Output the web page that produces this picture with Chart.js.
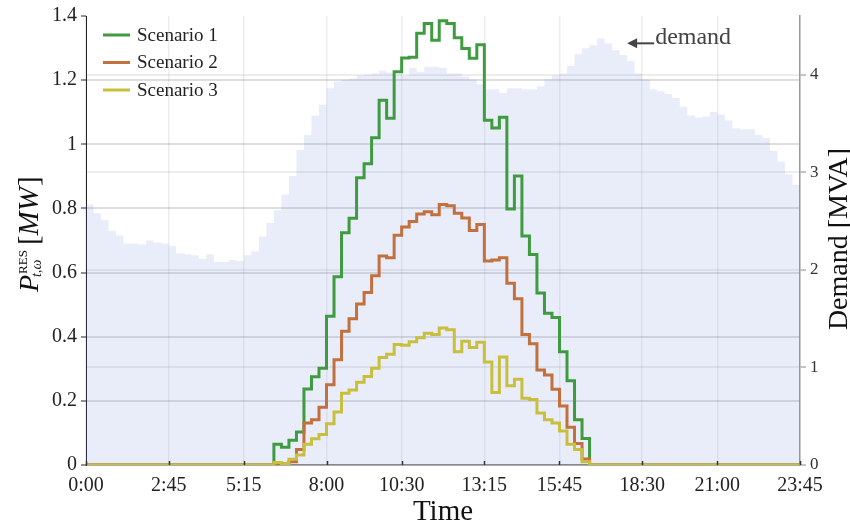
<!DOCTYPE html>
<html>
<head>
<meta charset="utf-8">
<title>RES scenarios and demand</title>
<script src="https://cdn.jsdelivr.net/npm/chart.js@4/dist/chart.umd.min.js"></script>
<style>
  html, body { margin: 0; background: #fff; }
  #wrap { width: 850px; height: 526px; }
</style>
</head>
<body>
<div id="wrap"><canvas id="chart"></canvas></div>
<script>
const SERIF = '"Liberation Serif", "Times New Roman", serif';

// one value per quarter hour, 0:00 .. 23:45
const slots = Array.from({length: 96}, (_, i) => i);
const timeTicks = [0, 11, 21, 32, 42, 53, 63, 74, 84, 95];
const timeTickLabels = ['0:00', '2:45', '5:15', '8:00', '10:30', '13:15', '15:45', '18:30', '21:00', '23:45'];
const powerTicks = [0, 0.2, 0.4, 0.6, 0.8, 1, 1.2, 1.4];
const demandTicks = [0, 1, 2, 3, 4];

// demand [MVA]
const demand = [
  2.67, 2.58, 2.51, 2.40, 2.35, 2.27, 2.27, 2.26, 2.30, 2.28, 2.27, 2.24,
  2.17, 2.16, 2.15, 2.11, 2.16, 2.08, 2.08, 2.10, 2.09, 2.15, 2.19, 2.34,
  2.48, 2.61, 2.77, 2.96, 3.23, 3.38, 3.58, 3.69, 3.86, 3.93, 3.95, 3.96,
  3.99, 4.00, 4.01, 4.04, 4.02, 4.00, 3.99, 4.07, 4.03, 4.08, 4.08, 4.07,
  4.01, 4.01, 3.98, 3.95, 3.90, 3.85, 3.85, 3.81, 3.86, 3.86, 3.85, 3.85,
  3.88, 3.95, 3.99, 4.01, 4.09, 4.21, 4.27, 4.30, 4.37, 4.32, 4.25, 4.20,
  4.14, 4.01, 3.95, 3.85, 3.83, 3.80, 3.76, 3.67, 3.58, 3.56, 3.57, 3.62,
  3.59, 3.53, 3.45, 3.44, 3.44, 3.38, 3.35, 3.22, 3.11, 2.98, 2.87, 2.87
];

// RES output per scenario [MW]
const scenario1 = [
  0, 0, 0, 0, 0, 0, 0, 0, 0, 0, 0, 0,
  0, 0, 0, 0, 0, 0, 0, 0, 0, 0, 0, 0,
  0, 0.065, 0.055, 0.077, 0.103, 0.237, 0.275, 0.302, 0.464, 0.587, 0.724, 0.769,
  0.896, 0.939, 1.020, 1.137, 1.081, 1.226, 1.269, 1.271, 1.346, 1.377, 1.324, 1.385,
  1.377, 1.332, 1.299, 1.268, 1.310, 1.075, 1.051, 1.084, 0.798, 0.901, 0.714, 0.656,
  0.536, 0.473, 0.460, 0.353, 0.263, 0.141, 0.083, 0, 0, 0, 0, 0,
  0, 0, 0, 0, 0, 0, 0, 0, 0, 0, 0, 0,
  0, 0, 0, 0, 0, 0, 0, 0, 0, 0, 0, 0
];
const scenario2 = [
  0, 0, 0, 0, 0, 0, 0, 0, 0, 0, 0, 0,
  0, 0, 0, 0, 0, 0, 0, 0, 0, 0, 0, 0,
  0, 0.003, 0.003, 0.010, 0.048, 0.131, 0.141, 0.180, 0.250, 0.328, 0.417, 0.456,
  0.502, 0.538, 0.590, 0.652, 0.646, 0.716, 0.742, 0.759, 0.783, 0.790, 0.780, 0.812,
  0.808, 0.785, 0.770, 0.731, 0.750, 0.636, 0.639, 0.646, 0.567, 0.518, 0.407, 0.378,
  0.296, 0.281, 0.236, 0.184, 0.118, 0.067, 0.019, 0, 0, 0, 0, 0,
  0, 0, 0, 0, 0, 0, 0, 0, 0, 0, 0, 0,
  0, 0, 0, 0, 0, 0, 0, 0, 0, 0, 0, 0
];
const scenario3 = [
  0, 0, 0, 0, 0, 0, 0, 0, 0, 0, 0, 0,
  0, 0, 0, 0, 0, 0, 0, 0, 0, 0, 0, 0,
  0, 0.008, 0.005, 0.018, 0.031, 0.065, 0.082, 0.095, 0.129, 0.165, 0.224, 0.234,
  0.258, 0.276, 0.302, 0.335, 0.345, 0.376, 0.373, 0.384, 0.397, 0.411, 0.407, 0.427,
  0.422, 0.353, 0.386, 0.366, 0.383, 0.321, 0.226, 0.337, 0.247, 0.267, 0.208, 0.204,
  0.162, 0.141, 0.131, 0.106, 0.065, 0.048, 0.010, 0, 0, 0, 0, 0,
  0, 0, 0, 0, 0, 0, 0, 0, 0, 0, 0, 0,
  0, 0, 0, 0, 0, 0, 0, 0, 0, 0, 0, 0
];

const scenarioColors = ['#3f9b3f', '#c2703d', '#c8bf3c'];

function stepLine(label, data, color, order) {
    return {
        label: label,
        data: data,
        yAxisID: 'y',
        borderColor: color,
        borderWidth: 3,
        borderJoinStyle: 'miter',
        stepped: 'before',
        pointRadius: 0,
        fill: false,
        order: order,
    };
}

// legend, axis titles, inward time ticks and the demand pointer
const decorations = {
    id: 'decorations',
    afterDraw(chart) {
        const { ctx, chartArea: area, scales } = chart;
        ctx.save();

        // short inward ticks on the time axis
        ctx.strokeStyle = '#333';
        ctx.lineWidth = 1.5;
        timeTicks.forEach(v => {
            const px = Math.round(scales.x.getPixelForValue(v)) + 0.5;
            ctx.beginPath();
            ctx.moveTo(px, area.bottom);
            ctx.lineTo(px, area.bottom - 4);
            ctx.stroke();
        });

        // legend
        ctx.textBaseline = 'middle';
        ctx.textAlign = 'left';
        ctx.font = '19px ' + SERIF;
        chart.data.datasets.filter(ds => ds.yAxisID === 'y').forEach((ds, i) => {
            const y = 35 + i * 27.5;
            ctx.strokeStyle = ds.borderColor;
            ctx.lineWidth = 3;
            ctx.beginPath();
            ctx.moveTo(area.left + 17, y);
            ctx.lineTo(area.left + 44, y);
            ctx.stroke();
            ctx.fillStyle = '#222';
            ctx.fillText(ds.label, area.left + 51, y + 1);
        });

        // demand pointer
        const tipX = scales.x.getPixelForValue(72);
        const tipY = scales.y2.getPixelForValue(4.32);
        ctx.strokeStyle = '#444';
        ctx.fillStyle = '#444';
        ctx.lineWidth = 2;
        ctx.beginPath();
        ctx.moveTo(tipX + 6, tipY);
        ctx.lineTo(tipX + 27, tipY);
        ctx.stroke();
        ctx.beginPath();
        ctx.moveTo(tipX, tipY);
        ctx.lineTo(tipX + 10, tipY - 5);
        ctx.lineTo(tipX + 10, tipY + 5);
        ctx.closePath();
        ctx.fill();
        ctx.textBaseline = 'alphabetic';
        ctx.font = '24px ' + SERIF;
        ctx.fillText('demand', tipX + 28, tipY + 1);

        // x title
        ctx.fillStyle = '#111';
        ctx.textAlign = 'center';
        ctx.font = '29px ' + SERIF;
        ctx.fillText('Time', (area.left + area.right) / 2, 520);

        // right title
        ctx.save();
        ctx.translate(847, 239);
        ctx.rotate(-Math.PI / 2);
        ctx.font = '28px ' + SERIF;
        ctx.fillText('Demand [MVA]', 0, 0);
        ctx.restore();

        // left title: P^RES_{t,ω} [MW]
        ctx.save();
        ctx.translate(38, 292);
        ctx.rotate(-Math.PI / 2);
        ctx.textAlign = 'left';
        ctx.font = 'italic 28px ' + SERIF;
        ctx.fillText('P', 0, 0);
        const pw = ctx.measureText('P').width;
        ctx.font = '13px ' + SERIF;
        ctx.fillText('RES', pw + 1, -11);
        const rw = ctx.measureText('RES').width;
        ctx.font = 'italic 14px ' + SERIF;
        ctx.fillText('t,ω', pw - 2, 3);
        let x = pw + rw + 6;
        ctx.font = '29px ' + SERIF;
        ctx.fillText('[', x, 0);
        x += ctx.measureText('[').width;
        ctx.font = 'italic 29px ' + SERIF;
        ctx.fillText('MW', x, 0);
        x += ctx.measureText('MW').width + 1;
        ctx.font = '29px ' + SERIF;
        ctx.fillText(']', x, 0);
        ctx.restore();

        ctx.restore();
    }
};

new Chart(document.getElementById('chart'), {
    type: 'line',
    data: {
        labels: slots,
        datasets: [
            stepLine('Scenario 1', scenario1, scenarioColors[0], 3),
            stepLine('Scenario 2', scenario2, scenarioColors[1], 2),
            stepLine('Scenario 3', scenario3, scenarioColors[2], 1),
            {
                label: 'demand',
                data: demand,
                yAxisID: 'y2',
                stepped: 'before',
                borderWidth: 0,
                borderColor: 'transparent',
                backgroundColor: 'rgba(110, 135, 220, 0.15)',
                pointRadius: 0,
                fill: 'origin',
                order: 10,
            },
        ]
    },
    options: {
        responsive: true,
        maintainAspectRatio: false,
        animation: false,
        events: [],
        layout: { padding: { top: 12, left: 0, right: 0, bottom: 0 } },
        plugins: {
            legend: { display: false },
            tooltip: { enabled: false },
        },
        scales: {
            x: {
                type: 'linear',
                position: 'bottom',
                min: 0,
                max: 95,
                afterBuildTicks: s => { s.ticks = timeTicks.map(v => ({ value: v })); },
                afterFit: s => { s.height = 61; },
                grid: { color: 'rgba(0,0,0,0.07)', lineWidth: 1.5, drawTicks: false },
                border: { color: '#8a8a8a', width: 1.5 },
                ticks: {
                    font: { family: SERIF, size: 20 },
                    color: '#222',
                    padding: 9,
                    maxRotation: 0,
                    autoSkip: false,
                    callback: v => timeTickLabels[timeTicks.indexOf(v)],
                },
            },
            y: {
                position: 'left',
                min: 0,
                max: 1.4,
                afterBuildTicks: s => { s.ticks = powerTicks.map(v => ({ value: v })); },
                afterFit: s => { s.width = 86; },
                grid: {
                    color: c => c.tick && c.tick.value === 1.4 ? 'rgba(0,0,0,0)' : 'rgba(0,0,0,0.13)',
                    lineWidth: 2,
                    tickLength: 5,
                    tickColor: '#222',
                    tickWidth: 1,
                },
                border: { color: '#222', width: 1 },
                ticks: {
                    font: { family: SERIF, size: 20 },
                    color: '#222',
                    padding: 4,
                    callback: v => String(+v.toFixed(1)),
                },
            },
            y2: {
                position: 'right',
                min: 0,
                max: 4.6,
                afterBuildTicks: s => { s.ticks = demandTicks.map(v => ({ value: v })); },
                afterFit: s => { s.width = 50; },
                grid: {
                    color: 'rgba(0,0,0,0.07)',
                    lineWidth: 2,
                    tickLength: 6,
                    tickColor: '#888',
                    tickWidth: 1,
                },
                border: { color: '#999', width: 1.5 },
                ticks: {
                    font: { family: SERIF, size: 17 },
                    color: '#333',
                    padding: 4,
                },
            },
        },
    },
    plugins: [decorations],
});
</script>
</body>
</html>
